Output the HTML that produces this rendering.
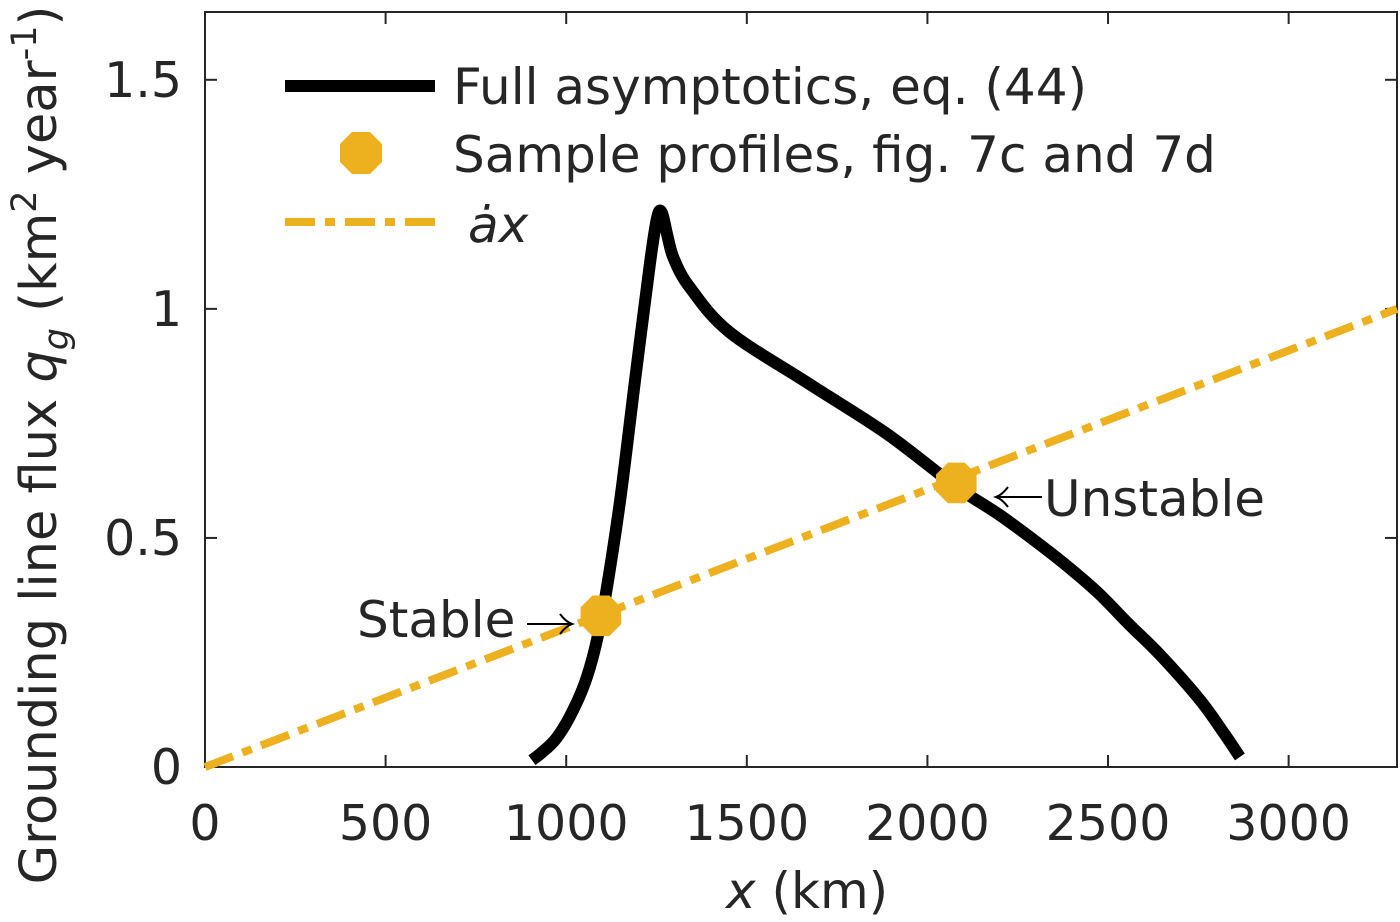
<!DOCTYPE html>
<html><head><meta charset="utf-8"><style>
html,body{margin:0;padding:0;background:#fff}
svg text{font-family:"DejaVu Sans","Liberation Sans",sans-serif;fill:#262626}
</style></head><body>
<svg id="chart" width="1400" height="917" xmlns="http://www.w3.org/2000/svg">
<g id="plot"></g>
</svg>
<script>
const xTicks=[0,500,1000,1500,2000,2500,3000];
const yTicks=[0,0.5,1,1.5];
const yTickLabels=["0","0.5","1","1.5"];
const curveX=[905,930,970,1010,1050,1080,1107,1149,1190,1232,1252,1265,1280,1298,1343,1451,1669,1888,2076,2200,2312,2400,2478,2560,2644,2755,2824,2865];
const curveY=[0.015,0.03,0.06,0.11,0.18,0.26,0.365,0.58,0.84,1.10,1.20,1.21,1.16,1.109,1.046,0.950,0.838,0.727,0.614,0.55,0.485,0.43,0.376,0.31,0.245,0.146,0.070,0.022];
const sampleX=[1096,2080];
const sampleY=[0.33,0.62];
const accumRate=[0.000303];
const L=205,R=1397,T=12,B=767,XMAX=3300,YMAX=1.648;
const sx=v=>L+v/XMAX*(R-L), sy=v=>B-v/YMAX*(B-T);
const NS="http://www.w3.org/2000/svg";
const g=document.getElementById('plot');
function mk(t,a){const e=document.createElementNS(NS,t);for(const k in a)e.setAttribute(k,a[k]);g.appendChild(e);return e;}
let e;
e=mk('rect',{x:L,y:T,width:R-L,height:B-T,fill:'none',stroke:'#262626','stroke-width':2});


xTicks.forEach(v=>{
 e=mk('line',{x1:sx(v),x2:sx(v),y1:B,y2:B-12,stroke:'#262626','stroke-width':2});
 
 
 e=mk('line',{x1:sx(v),x2:sx(v),y1:T,y2:T+12,stroke:'#262626','stroke-width':2});
 
 
 e=mk('text',{x:sx(v),y:840,'font-size':49,'text-anchor':'middle'});e.textContent=v;
 
 
});
yTicks.forEach((v,i)=>{
 e=mk('line',{x1:L,x2:L+12,y1:sy(v),y2:sy(v),stroke:'#262626','stroke-width':2});
 
 
 e=mk('line',{x1:R,x2:R-12,y1:sy(v),y2:sy(v),stroke:'#262626','stroke-width':2});
 
 
 e=mk('text',{x:182,y:sy(v)+17,'font-size':49,'text-anchor':'end'});e.textContent=yTickLabels[i];
 
 
});
e=mk('line',{x1:sx(0),y1:sy(0),x2:sx(XMAX),y2:sy(accumRate[0]*XMAX),stroke:'#EDB120','stroke-width':8,'stroke-dasharray':'30 10 10 10'});


const P=curveX.map((x,i)=>[sx(x),sy(curveY[i])]);
let d='M'+P[0][0].toFixed(1)+','+P[0][1].toFixed(1);
for(let i=0;i<P.length-1;i++){
 const p0=P[Math.max(0,i-1)],p1=P[i],p2=P[i+1],p3=P[Math.min(P.length-1,i+2)];
 const c1=[p1[0]+(p2[0]-p0[0])/6,p1[1]+(p2[1]-p0[1])/6];
 const c2=[p2[0]-(p3[0]-p1[0])/6,p2[1]-(p3[1]-p1[1])/6];
 d+='C'+c1.map(v=>v.toFixed(1)).join(',')+' '+c2.map(v=>v.toFixed(1)).join(',')+' '+p2.map(v=>v.toFixed(1)).join(',');
}
e=mk('path',{d:d,fill:'none',stroke:'#000','stroke-width':12,'stroke-linejoin':'round'});


function oct(cx,cy,r){let p=[];for(let k=0;k<8;k++){const a=Math.PI/8+k*Math.PI/4;p.push((cx+r*Math.cos(a)).toFixed(1)+','+(cy+r*Math.sin(a)).toFixed(1));}return p.join(' ');}
sampleX.forEach((x,i)=>{
 e=mk('polygon',{points:oct(sx(x),sy(sampleY[i]),22),fill:'#EDB120'});
 
 
});
</script>
<svg width="1400" height="917" style="position:absolute;left:0;top:0" xmlns="http://www.w3.org/2000/svg">
<g>
<text x="357" y="637" font-size="50" fill="#000">Stable</text>
<line x1="527" y1="624" x2="570" y2="624" stroke="#000" stroke-width="2"/>
<path d="M560,614 Q566,622 572,624 Q566,626 560,634" fill="none" stroke="#000" stroke-width="2"/>
</g>
<g>
<line x1="997" y1="497" x2="1042" y2="497" stroke="#000" stroke-width="2"/>
<path d="M1008,487 Q1002,495 996,497 Q1002,499 1008,507" fill="none" stroke="#000" stroke-width="2"/>
<text x="1044" y="516" font-size="50" fill="#000">Unstable</text>
</g>
<g>
<line x1="285" y1="86" x2="435" y2="86" stroke="#000" stroke-width="12"/>
<text x="453" y="104" font-size="50" fill="#000">Full asymptotics, eq. (44)</text>
<polygon points="382,162 370,174 352,174 340,162 340,144 352,132 370,132 382,144" fill="#EDB120"/>
<text x="453" y="172" font-size="50" fill="#000">Sample profiles, fig. 7c and 7d</text>
<line x1="285" y1="222" x2="435" y2="222" stroke="#EDB120" stroke-width="8" stroke-dasharray="30 10 10 10"/>
<text x="468" y="242" font-size="50" font-style="italic" fill="#000">ȧx</text>
</g>
<text x="726" y="908" font-size="50" fill="#262626"><tspan font-style="italic">x</tspan> (km)</text>
<text transform="translate(56,445) rotate(-90)" font-size="51" text-anchor="middle" fill="#262626">Grounding line flux <tspan font-style="italic">q</tspan><tspan font-style="italic" font-size="35" dy="12">g</tspan><tspan dy="-12"> (km</tspan><tspan font-size="35" dy="-20">2</tspan><tspan dy="20"> year</tspan><tspan font-size="35" dy="-20">-1</tspan><tspan dy="20">)</tspan></text>
</svg>
</body></html>
